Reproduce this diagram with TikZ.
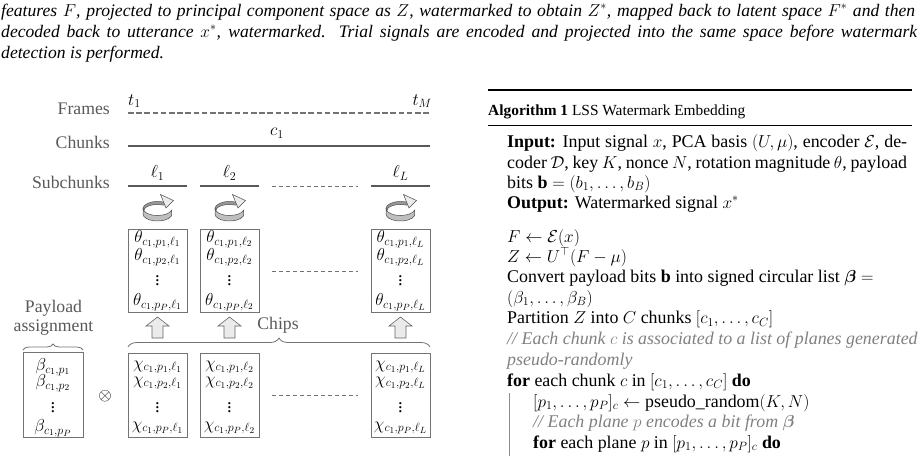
\documentclass[tikz,border=0pt]{standalone}
\usepackage{amsmath}
\usepackage{fontspec}
\setmainfont{Liberation Serif}
\usetikzlibrary{decorations.pathreplacing}

\tikzset{
  figlabel/.style={font=\fontsize{17.7}{20}\selectfont, text=black!65, inner sep=0pt},
  figmath/.style={font=\fontsize{18.5}{20}\selectfont, inner sep=0pt},
  chipbox/.style={draw=black!55, line width=0.9pt, inner sep=0pt},
  midgap/.style={black!55, line width=0.8pt, dash pattern=on 4pt off 3pt},
  algline/.style={font=\fontsize{17.9}{20}\selectfont, inner sep=0pt, anchor=base west},
  algnote/.style={algline, text=black!50, font=\fontsize{17.9}{20}\selectfont\itshape},
  capline/.style={font=\fontsize{17.6}{21}\selectfont\itshape, inner sep=0pt, anchor=base west},
  rotarrow/.pic={
    \filldraw[fill=black!40, draw=black!70, line width=0.5pt]
      (180:14.5 and 7) arc[start angle=180, end angle=300, x radius=14.5, y radius=7]
      -- (6.8,-3.3) arc[start angle=300, end angle=180, x radius=13.5, y radius=6] -- cycle;
    \filldraw[fill=black!25, draw=black!70, line width=0.5pt]
      (180:14.5 and 7) arc[start angle=180, end angle=15, x radius=14.5, y radius=7]
      -- ++(0,5.5) arc[start angle=15, end angle=180, x radius=14.5, y radius=7] -- cycle;
    \filldraw[fill=black!8, draw=black!70, line width=0.5pt]
      (3,-14) -- (16,-8) -- (8.5,-0.5) -- cycle;
  },
  chiparrow/.pic={
    \filldraw[fill=black!8, draw=black!60, line width=0.6pt]
      (0,-10.5) -- (11.5,-1.5) -- (5.5,-1.5) -- (5.5,10.5) -- (-5.5,10.5)
      -- (-5.5,-1.5) -- (-11.5,-1.5) -- cycle;
  }
}

\begin{document}
\begin{tikzpicture}[x=1pt, y=-1pt]
\useasboundingbox (0,0) rectangle (919,456);

% caption
\node[capline] (cap1) at (1,16) {\makebox[914pt][s]{features $F$, projected to principal component space as $Z$, watermarked to obtain $Z^*$, mapped back to latent space $F^*$ and then}};
\node[capline] (cap2) at (1,37) {\makebox[916pt][s]{decoded back to utterance $x^*$, watermarked. Trial signals are encoded and projected into the same space before watermark}};
\node[capline] (cap3) at (1,58) {detection is performed.};

% frames, chunks, subchunks
\node[figlabel, anchor=base east] (frames) at (110,114.5) {Frames};
\node[figlabel, anchor=base east] (chunks) at (110,148.5) {Chunks};
\node[figlabel, anchor=base east] (subchunks) at (110,188.5) {Subchunks};
\node[figmath, anchor=base west] (t1) at (128,105) {$t_1$};
\node[figmath, anchor=base east] (tM) at (432,105) {$t_M$};
\draw[black!55, line width=1.2pt, dash pattern=on 5.5pt off 2.7pt] (128,113) -- (430,113);
\node[figmath] (c1) at (277,133) {$c_1$};
\draw[black!65, line width=2.7pt] (128,146) -- (430,146);
\foreach \x/\l [count=\i] in {157.5/\ell_1, 229.5/\ell_2, 400.5/\ell_L} {
  \node[figmath] (sub\i) at (\x,173) {$\l$};
  \draw[black!65, line width=2.7pt] (\x-29.5,186) -- (\x+29.5,186);
}
\draw[midgap] (272,186) -- (358,186);

% rotation angles
\foreach \x/\l [count=\i] in {157.5/\ell_1, 229.5/\ell_2, 400.5/\ell_L} {
  \pic at (\x,208.5) {rotarrow};
  \node[chipbox, minimum width=59pt, minimum height=83pt] (theta\i) at (\x,270.5) {};
  \node[figmath] (theta\i a) at (\x,239) {$\theta_{c_1,p_1,\l}$};
  \node[figmath] (theta\i b) at (\x,257) {$\theta_{c_1,p_2,\l}$};
  \node[figmath] (theta\i c) at (\x,278) {$\vdots$};
  \node[figmath] (theta\i d) at (\x,302) {$\theta_{c_1,p_P,\l}$};
  \pic at (\x,327.5) {chiparrow};
  \node[chipbox, minimum width=59pt, minimum height=84pt] (chi\i) at (\x,395) {};
  \node[figmath] (chi\i a) at (\x,367) {$\chi_{c_1,p_1,\l}$};
  \node[figmath] (chi\i b) at (\x,383) {$\chi_{c_1,p_2,\l}$};
  \node[figmath] (chi\i c) at (\x,405) {$\vdots$};
  \node[figmath] (chi\i d) at (\x,428) {$\chi_{c_1,p_P,\l}$};
}
\draw[midgap] (272,271) -- (358,271);
\draw[midgap] (272,395) -- (358,395);

% payload and chips
\node[figlabel, anchor=base] (payload) at (53.5,312) {Payload};
\node[figlabel, anchor=base] (assign) at (53.5,331) {assignment};
\node[figlabel, anchor=base] (chips) at (278,329) {Chips};
\draw[decorate, decoration={brace, amplitude=6pt}, black!55, line width=0.8pt] (23,350) -- (83,350);
\draw[decorate, decoration={brace, amplitude=9pt}, black!55, line width=0.8pt] (128,347) -- (430,347);
\node[chipbox, minimum width=60pt, minimum height=85pt] (beta) at (53,394.5) {};
\node[figmath] (beta a) at (53,367) {$\beta_{c_1,p_1}$};
\node[figmath] (beta b) at (53,383) {$\beta_{c_1,p_2}$};
\node[figmath] (beta c) at (53,405) {$\vdots$};
\node[figmath] (beta d) at (53,428) {$\beta_{c_1,p_P}$};
\node[figmath] (otimes) at (105,396) {$\otimes$};

% algorithm
\draw[line width=1.6pt] (488,90) -- (912,90);
\node[anchor=base west, inner sep=0pt, font=\fontsize{15.4}{18}\selectfont] (algtitle) at (488,115) {\textbf{Algorithm 1} LSS Watermark Embedding};
\draw[line width=1pt] (488,125) -- (912,125);
\node[algline] (in1) at (507,147) {\makebox[400pt][s]{\textbf{Input:} Input signal $x$, PCA basis $(U,\mu)$, encoder $\mathcal{E}$, de-}};
\node[algline] (in2) at (507,168) {\makebox[400pt][s]{coder $\mathcal{D}$, key $K$, nonce $N$, rotation magnitude $\theta$, payload}};
\node[algline] (in3) at (507,188) {bits $\mathbf{b}=(b_1,\dots,b_B)$};
\node[algline] (out) at (507,208) {\textbf{Output:} Watermarked signal $x^*$};
\node[algline] (enc) at (507,242) {$F\leftarrow\mathcal{E}(x)$};
\node[algline] (proj) at (507,262) {$Z\leftarrow U^\top(F-\mu)$};
\node[algline] (conv1) at (507,282) {Convert payload bits $\mathbf{b}$ into signed circular list $\boldsymbol{\beta}=$};
\node[algline] (conv2) at (507,303) {$(\beta_1,\dots,\beta_B)$};
\node[algline] (part) at (507,323.5) {Partition $Z$ into $C$ chunks $[c_1,\dots,c_C]$};
\node[algnote] (note1) at (507,344.5) {// Each chunk $c$ is associated to a list of planes generated};
\node[algnote] (note2) at (507,365) {pseudo-randomly};
\node[algline] (for1) at (507,386) {\textbf{for} each chunk $c$ in $[c_1,\dots,c_C]$ \textbf{do}};
\draw[black!45, line width=1pt] (509,393) -- (509,456);
\node[algline] (rand) at (533,407) {$[p_1,\dots,p_P]_c\leftarrow\text{pseudo\_random}(K,N)$};
\node[algnote] (note3) at (533,427.5) {// Each plane $p$ encodes a bit from $\boldsymbol{\beta}$};
\node[algline] (for2) at (533,448) {\textbf{for} each plane $p$ in $[p_1,\dots,p_P]_c$ \textbf{do}};
\end{tikzpicture}
\end{document}
